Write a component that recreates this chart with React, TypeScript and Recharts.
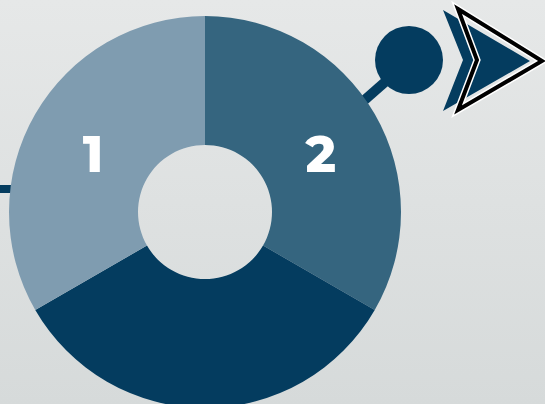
import { PieChart, Pie, Cell } from "recharts";

// segments clockwise from 12 o'clock
const SEGMENTS = ["2", "3", "1"];
const VALUES = [1, 1, 1];
const LABELS = ["2", "", "1"];
const COLORS = ["#35657f", "#043c5f", "#7f9cb0"];

const data = SEGMENTS.map((name, i) => ({ name, value: VALUES[i], label: LABELS[i] }));

const RADIAN = Math.PI / 180;

const renderLabel = (props: any) => {
  const { cx, cy, midAngle, innerRadius, outerRadius, index } = props;
  const r = (innerRadius + outerRadius) / 2;
  const x = cx + r * Math.cos(-midAngle * RADIAN);
  const y = cy + r * Math.sin(-midAngle * RADIAN);
  const text = data[index].label;
  if (!text) return null;
  return (
    <text
      x={x + 2}
      y={y + 8}
      fill="#ffffff"
      textAnchor="middle"
      dominantBaseline="central"
      fontFamily="Montserrat, 'Open Sans', sans-serif"
      fontWeight={800}
      fontSize={51}
    >
      {text}
    </text>
  );
};

export default function App() {
  return (
    <div
      style={{
        position: "fixed",
        left: 0,
        top: 0,
        width: 545,
        height: 404,
        overflow: "hidden",
        background: "linear-gradient(180deg, #e6e8e8 0%, #d6dada 100%)",
      }}
    >
      <svg width={545} height={404} style={{ position: "absolute", left: 0, top: 0 }}>
        <rect x={0} y={185} width={14} height={8} fill="#043c5f" />
        <line x1={360} y1={104} x2={409} y2={61} stroke="#043c5f" strokeWidth={10} />
        <circle cx={409} cy={60} r={34} fill="#043c5f" />
        <polygon points="443,10 530,61 443,111 463,60" fill="#043c5f" />
        <polygon
          points="458,9 542,61 458,110 477,60"
          fill="none"
          stroke="#ffffff"
          strokeWidth={7}
          strokeLinejoin="miter"
        />
        <polygon
          points="458,9 542,61 458,110 477,60"
          fill="none"
          stroke="#000000"
          strokeWidth={4}
          strokeLinejoin="miter"
        />
      </svg>
      <div style={{ position: "absolute", left: 0, top: 0 }}>
        <PieChart width={545} height={404} margin={{ top: 0, right: 0, bottom: 0, left: 0 }}>
          <Pie
            data={data}
            dataKey="value"
            nameKey="name"
            cx={205}
            cy={212}
            innerRadius={67}
            outerRadius={196}
            startAngle={90}
            endAngle={-270}
            stroke="none"
            label={renderLabel}
            labelLine={false}
            isAnimationActive={false}
          >
            {data.map((_, i) => (
              <Cell key={i} fill={COLORS[i]} />
            ))}
          </Pie>
        </PieChart>
      </div>
    </div>
  );
}
